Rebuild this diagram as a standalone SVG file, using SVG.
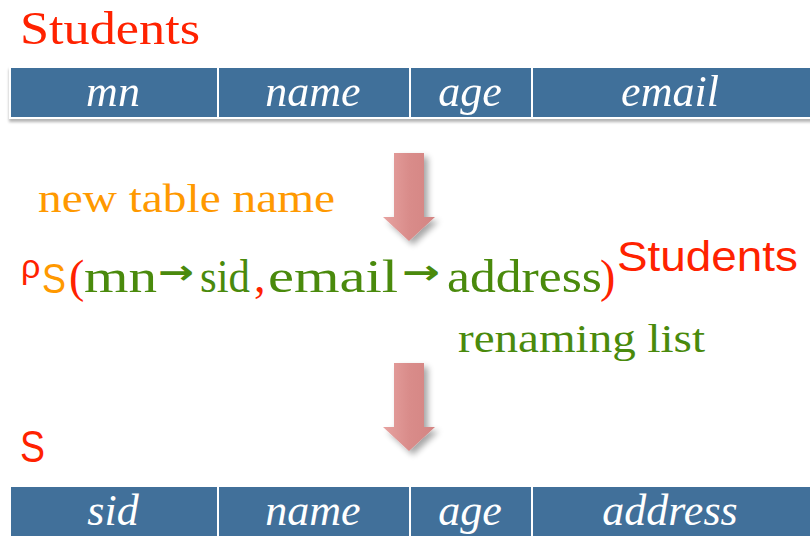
<svg xmlns="http://www.w3.org/2000/svg" width="810" height="536" viewBox="0 0 810 536">
<style>
.hdr{fill:#41709a;stroke:#ffffff;stroke-width:2}
.ht{font-family:"Liberation Serif",serif;font-style:italic;font-size:44px;fill:#ffffff;text-anchor:middle}
.red{fill:#ff2200}
.sans{font-family:"Liberation Sans",sans-serif}
.serif{font-family:"Liberation Serif",serif}
.grn{fill:#4a8a0c}
.org{fill:#ff9900}
.arr{font-family:"DejaVu Sans",sans-serif;font-weight:bold;font-size:34px;fill:#4a8a0c}
</style>
<defs>
<linearGradient id="ag" x1="0" y1="0" x2="1" y2="0">
<stop offset="0" stop-color="#e7a3a1"/>
<stop offset="0.5" stop-color="#d98c8a"/>
<stop offset="1" stop-color="#d48583"/>
</linearGradient>
<filter id="sh" x="-30%" y="-30%" width="160%" height="160%">
<feGaussianBlur in="SourceAlpha" stdDeviation="3"/>
<feOffset dx="4" dy="4"/>
<feComponentTransfer><feFuncA type="linear" slope="0.35"/></feComponentTransfer>
<feMerge><feMergeNode/><feMergeNode in="SourceGraphic"/></feMerge>
</filter>
<filter id="tsh" x="-5%" y="-20%" width="110%" height="160%">
<feGaussianBlur in="SourceAlpha" stdDeviation="1.5"/>
<feOffset dx="0" dy="3"/>
<feComponentTransfer><feFuncA type="linear" slope="0.3"/></feComponentTransfer>
<feMerge><feMergeNode/><feMergeNode in="SourceGraphic"/></feMerge>
</filter>
</defs>

<g id="students-label"><text x="20" y="44" class="red serif" font-size="46" textLength="180" lengthAdjust="spacingAndGlyphs">Students</text></g>

<g id="table-students" filter="url(#tsh)">
<rect class="hdr" x="10" y="67" width="208" height="51"/>
<rect class="hdr" x="218" y="67" width="192" height="51"/>
<rect class="hdr" x="410" y="67" width="122" height="51"/>
<rect class="hdr" x="532" y="67" width="282" height="51"/>
<text class="ht" x="113" y="106">mn</text>
<text class="ht" x="313" y="106">name</text>
<text class="ht" x="470" y="106">age</text>
<text class="ht" x="670" y="106">email</text>
</g>

<g id="connectors">
<path id="arrow1" filter="url(#sh)" fill="url(#ag)" d="M394,153 H424 V217 H435 L409,241 L383,217 H394 Z"/>
<path id="arrow2" filter="url(#sh)" fill="url(#ag)" d="M394,363 H424 V427 H435 L409,451 L383,427 H394 Z"/>
</g>

<g id="new-table-name"><text x="38" y="212" class="org serif" font-size="40" textLength="297" lengthAdjust="spacingAndGlyphs">new table name</text></g>

<g id="formula">
<text x="21" y="278" class="red sans" font-size="34">ρ</text>
<text x="42" y="293" class="org sans" font-size="42" textLength="24" lengthAdjust="spacingAndGlyphs">S</text>
<text y="292" class="serif" font-size="46">
<tspan class="red" x="69">(</tspan><tspan class="grn" x="84" textLength="73" lengthAdjust="spacingAndGlyphs">mn</tspan><tspan class="grn" x="200" textLength="50" lengthAdjust="spacingAndGlyphs">sid</tspan><tspan class="red" x="254">,</tspan><tspan class="grn" x="268" textLength="130" lengthAdjust="spacingAndGlyphs">email</tspan><tspan class="grn" x="447" textLength="155" lengthAdjust="spacingAndGlyphs">address</tspan><tspan class="red" x="600">)</tspan>
</text>
<text y="284" class="arr"><tspan x="158" textLength="36" lengthAdjust="spacingAndGlyphs">→</tspan><tspan x="402" textLength="38" lengthAdjust="spacingAndGlyphs">→</tspan></text>
<text x="617" y="271" class="red sans" font-size="42" textLength="181" lengthAdjust="spacingAndGlyphs">Students</text>
</g>

<g id="renaming-list"><text x="458" y="352" class="grn serif" font-size="40" textLength="247" lengthAdjust="spacingAndGlyphs">renaming list</text></g>

<g id="s-label"><text x="20" y="462" class="red sans" font-size="44" textLength="25" lengthAdjust="spacingAndGlyphs">S</text></g>

<g id="table-s">
<rect class="hdr" x="10" y="486" width="208" height="52"/>
<rect class="hdr" x="218" y="486" width="192" height="52"/>
<rect class="hdr" x="410" y="486" width="122" height="52"/>
<rect class="hdr" x="532" y="486" width="282" height="52"/>
<text class="ht" x="113" y="525">sid</text>
<text class="ht" x="313" y="525">name</text>
<text class="ht" x="470" y="525">age</text>
<text class="ht" x="670" y="525">address</text>
</g>
</svg>
